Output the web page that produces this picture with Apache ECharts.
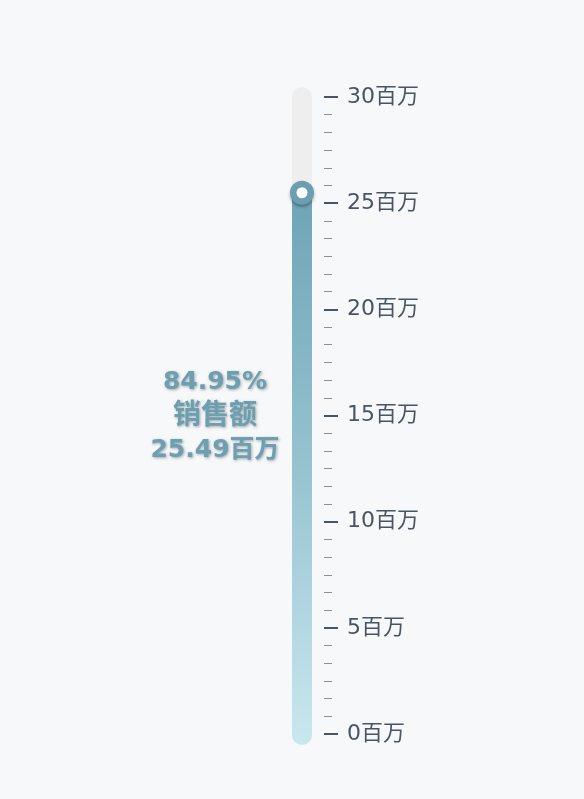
<!DOCTYPE html>
<html><head><meta charset="utf-8">
<script src="https://cdn.jsdelivr.net/npm/echarts@6/dist/echarts.min.js"></script>
<style>html,body{margin:0;padding:0;background:#f7f8fa;}#c{width:584px;height:799px;}</style>
</head><body><div id="c"></div>
<script>
const categories = ['销售额'];
const values = [25.49];
const percents = [84.95];
const axisMin = 0;
const axisMax = 30;
const axisInterval = 5;
const unit = '百万';

const FONT = '"DejaVu Sans", "Noto Sans CJK SC", sans-serif';
const chart = echarts.init(document.getElementById('c'));
chart.setOption({
  backgroundColor: '#f7f8fa',
  grid: { left: 280, right: 260, top: 97, bottom: 65 },
  xAxis: { type: 'category', data: categories, show: false },
  yAxis: {
    type: 'value', min: axisMin, max: axisMax, interval: axisInterval, position: 'right',
    axisLine: { show: false },
    axisTick: { show: true, length: 14, lineStyle: { color: '#4a5563', width: 2 } },
    minorTick: { show: true, splitNumber: 6, length: 8, lineStyle: { color: '#8a8f98', width: 1 } },
    splitLine: { show: false },
    axisLabel: { margin: 23, fontSize: 22, fontFamily: FONT, color: '#4a5563', formatter: v => v + unit }
  },
  series: [{
    type: 'custom',
    data: values.map((v, i) => [i, v, percents[i]]),
    renderItem: function (params, api) {
      const idx = api.value(0);
      const val = api.value(1);
      const pct = api.value(2);
      const top = api.coord([idx, axisMax]);
      const bot = api.coord([idx, axisMin]);
      const vp = api.coord([idx, val]);
      const cx = top[0];
      const w = 20, r = 10;
      const base = { fontSize: 25, fontWeight: 'bold', lineHeight: 34, fontFamily: FONT, fill: '#6b9fb2', align: 'center' };
      return {
        type: 'group',
        children: [
          { type: 'rect', shape: { x: cx - w / 2, y: top[1] - r, width: w, height: bot[1] - top[1] + 2 * r + 1, r: r },
            style: { fill: '#eeeeee' } },
          { type: 'rect', shape: { x: cx - w / 2, y: vp[1], width: w, height: bot[1] - vp[1] + r + 1, r: [0, 0, r, r] },
            style: { fill: new echarts.graphic.LinearGradient(0, 0, 0, 1, [
              { offset: 0, color: '#6ea4b7' }, { offset: 0.5, color: '#96c3d0' }, { offset: 1, color: '#cae7f0' }]) } },
          { type: 'circle', shape: { cx: cx, cy: vp[1], r: 12 },
            style: { fill: '#6a9fb2', shadowColor: 'rgba(0,0,0,0.35)', shadowBlur: 3, shadowOffsetY: 2 } },
          { type: 'circle', shape: { cx: cx, cy: vp[1], r: 5.5 }, style: { fill: '#ffffff' } },
          { type: 'text', x: cx - 87, y: (top[1] + bot[1]) / 2 + 1,
            style: { text: '{a|' + pct.toFixed(2) + '%}\n{b|' + categories[idx] + '}\n{a|' + val.toFixed(2) + unit + '}',
              align: 'center', verticalAlign: 'middle', fontSize: 25, fontWeight: 'bold', fontFamily: FONT,
              fill: '#6b9fb2', textShadowColor: 'rgba(0,0,0,0.35)', textShadowBlur: 3, textShadowOffsetX: 1, textShadowOffsetY: 1,
              rich: { a: Object.assign({}, base), b: Object.assign({}, base, { fontSize: 28 }) } } }
        ]
      };
    }
  }]
});
</script></body></html>
